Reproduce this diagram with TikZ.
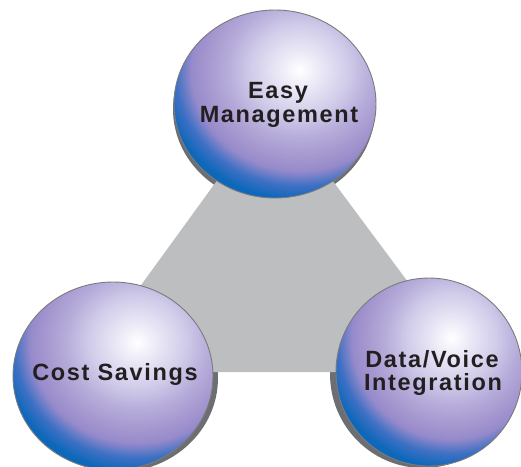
\documentclass[tikz,border=0pt]{standalone}
\usepackage{fontspec}
\newfontfamily\lblfont{Liberation Sans}[LetterSpace=7]
\definecolor{trigray}{HTML}{BCBEC0}
\definecolor{shadowgray}{HTML}{6D6E71}
\definecolor{outlgray}{HTML}{7A7B7E}
\definecolor{txt}{HTML}{231F20}
\definecolor{sA}{RGB}{232,230,245}
\definecolor{sB}{RGB}{208,203,233}
\definecolor{sC}{RGB}{182,172,218}
\definecolor{sD}{RGB}{166,152,207}
\definecolor{sE}{RGB}{150,138,203}
\definecolor{sF}{RGB}{62,112,196}
\definecolor{sG}{RGB}{14,104,186}
\pgfdeclareradialshading{sphshade}{\pgfpoint{0bp}{0bp}}{color(0bp)=(white); color(4bp)=(sA); color(8.5bp)=(sB); color(12.5bp)=(sC); color(16bp)=(sD); color(18.75bp)=(sE); color(21.5bp)=(sF); color(24bp)=(sG); color(50bp)=(sG)}
\tikzset{
  lbl/.style={font=\lblfont\bfseries\fontsize{23.5}{24}\selectfont, text=txt, anchor=base, inner sep=0pt},
  outl/.style={draw=outlgray, line width=0.9pt},
  shadowfill/.style={fill=shadowgray},
}
\newcommand\mysphere[4]{%
  \begin{scope}[shift={(#1,#2)}, xscale=#3, yscale=#4]
    \begin{scope}
      \clip (0,0) circle (1);
      \shade[shading=sphshade] (0.24,-0.36) circle (1.43);
    \end{scope}
    \draw[outl] (0,0) circle (1);
  \end{scope}}
\begin{document}
\begin{tikzpicture}[x=1pt,y=-1pt]
  \useasboundingbox (0,0) rectangle (521,466);
  % shadows
  \fill[shadowfill] (274,109) ellipse [x radius=101, y radius=94];
  \fill[shadowfill] (118,378) ellipse [x radius=100, y radius=94];
  \fill[shadowfill] (423,374) ellipse [x radius=93, y radius=94];
  % triangle
  \fill[trigray] (78,372) -- (475,372) -- (274,102) -- cycle;
  % spheres
  \mysphere{275}{104}{101}{94}
  \mysphere{113}{376}{100}{94}
  \mysphere{429}{372}{93}{94}
  % labels
  \node[lbl] (easy) at (278,98) {Easy};
  \node[lbl] (mgmt) at (279,122) {Management};
  \node[lbl] (cost) at (115,380) {Cost Savings};
  \node[lbl] (data) at (432,367) {Data/Voice};
  \node[lbl] (integ) at (433,390) {Integration};
\end{tikzpicture}
\end{document}
